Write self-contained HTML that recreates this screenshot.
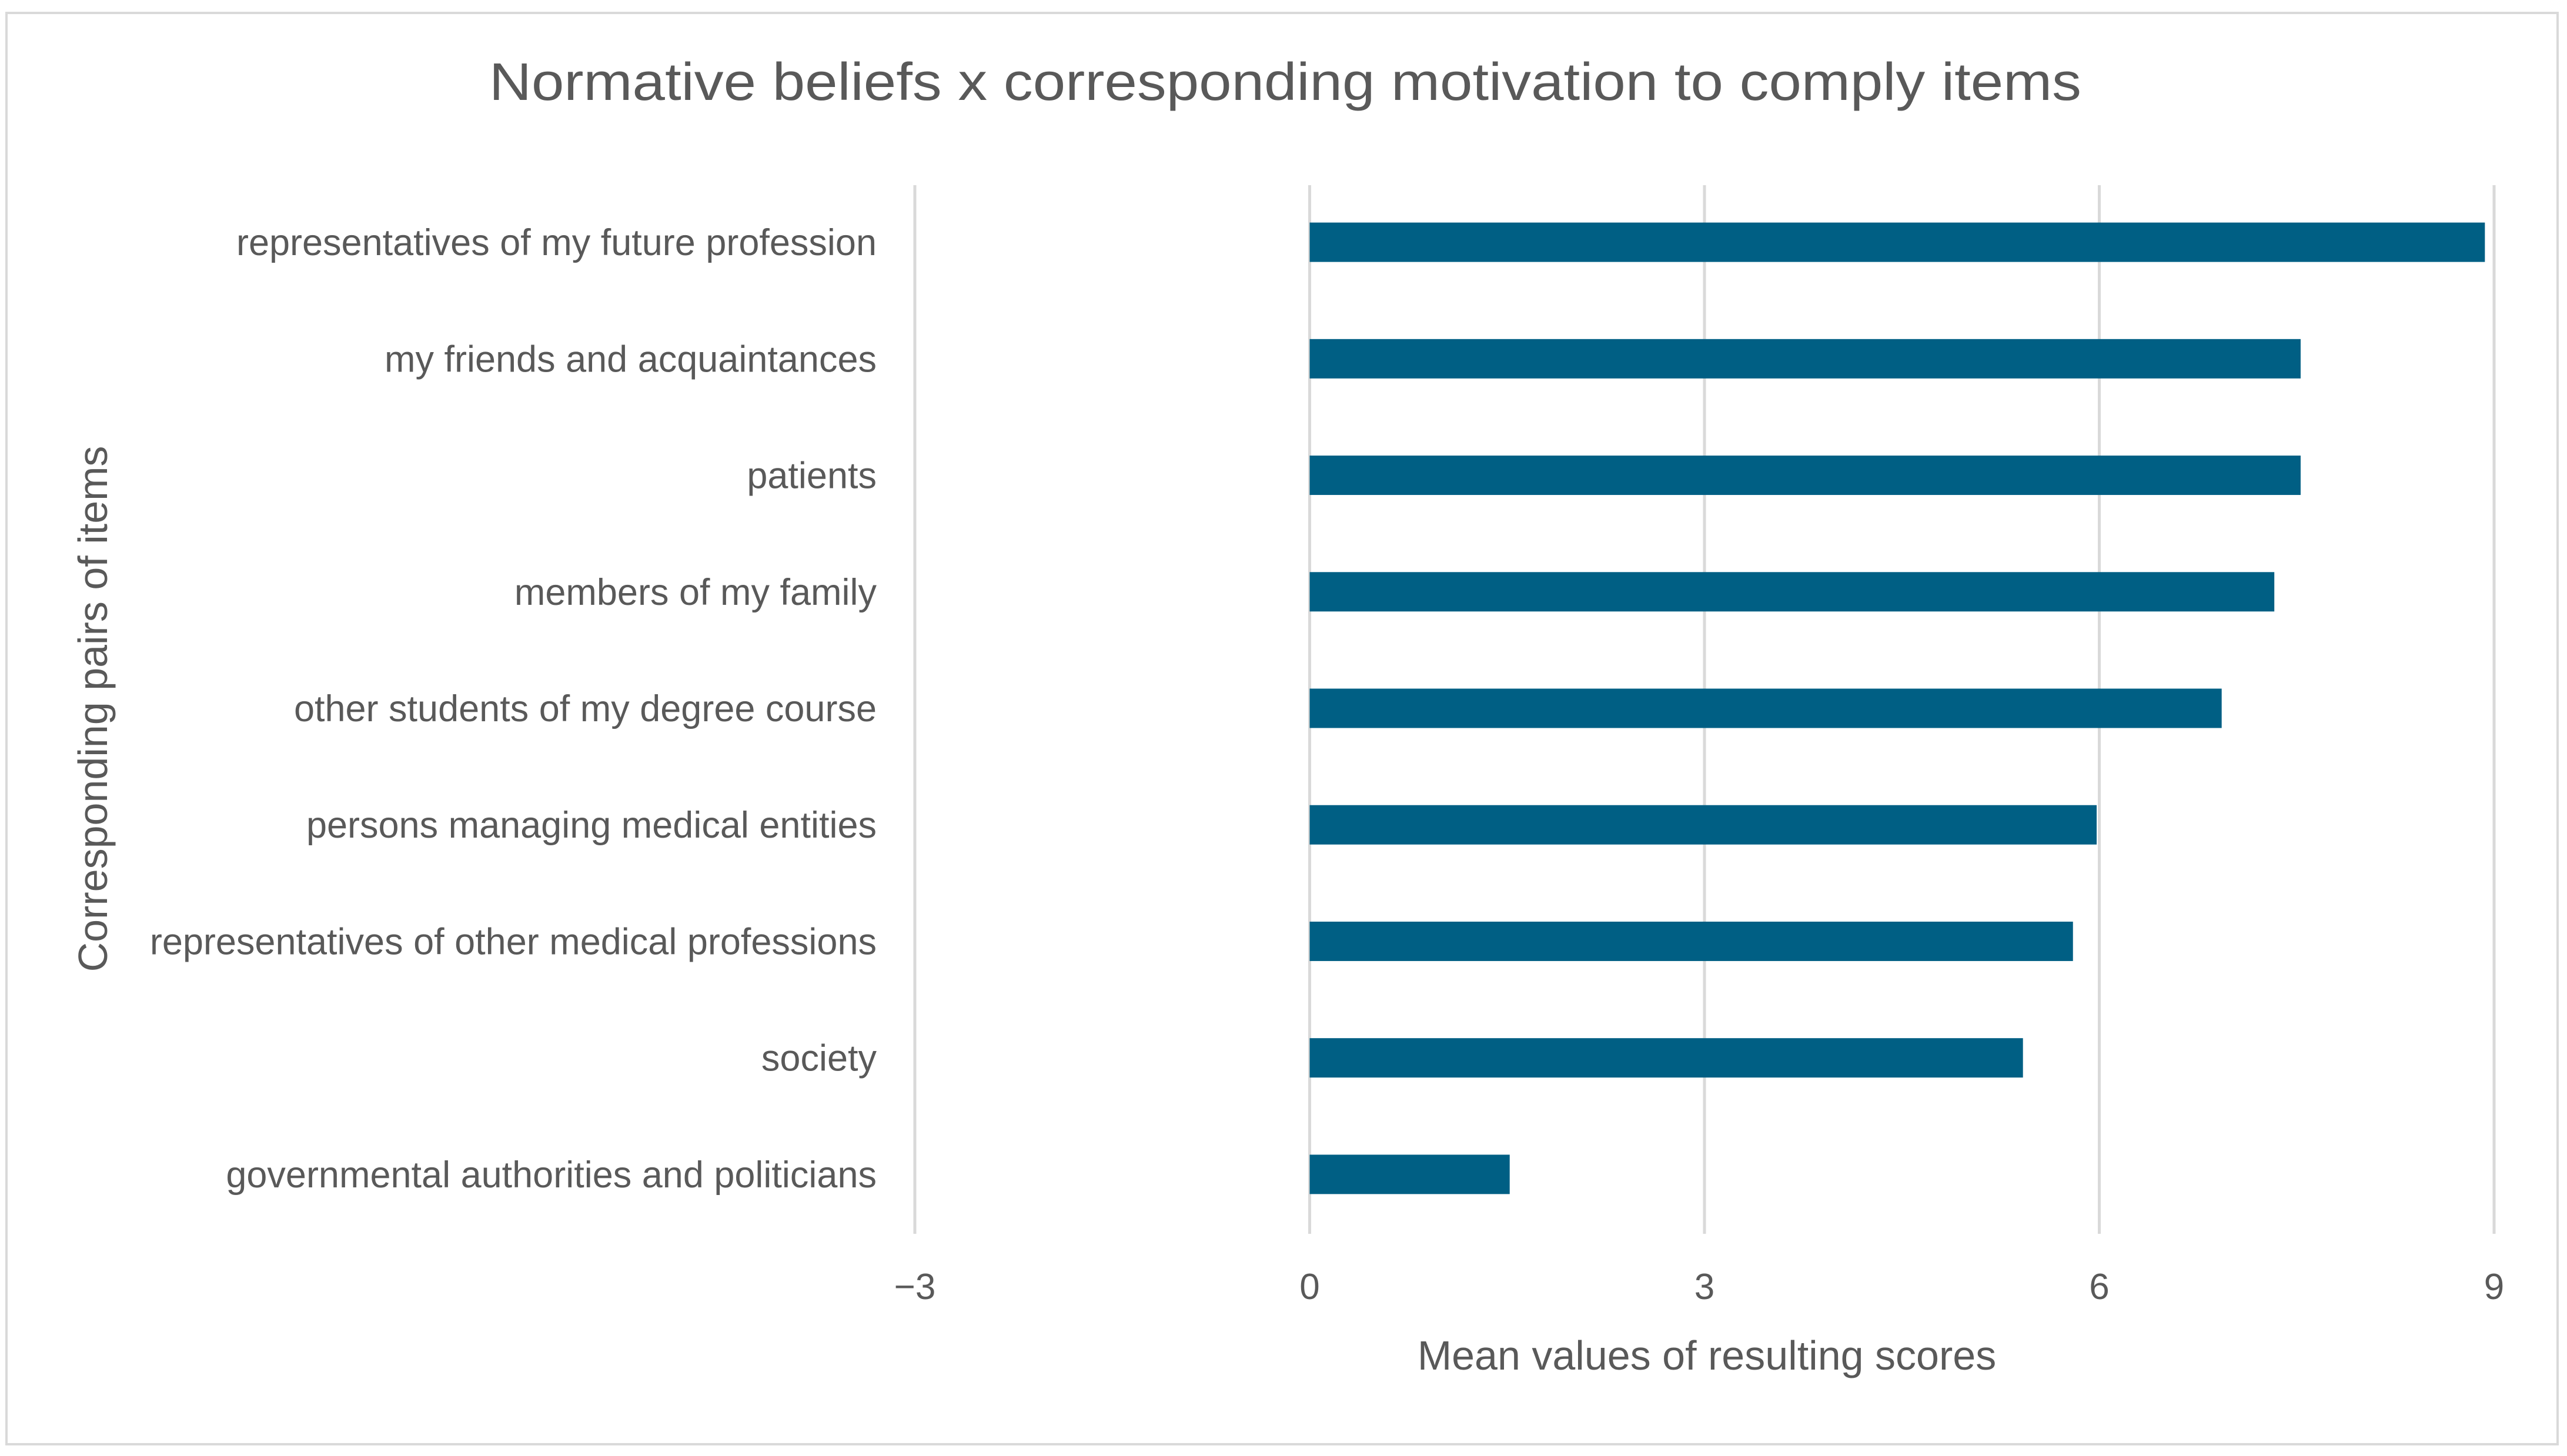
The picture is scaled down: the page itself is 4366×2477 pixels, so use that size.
<!DOCTYPE html>
<html><head><meta charset="utf-8"><style>
html,body{margin:0;padding:0;background:#fff}
svg{display:block}
text{font-family:"Liberation Sans",sans-serif;fill:#595959}
</style></head><body>
<svg id="chart" width="4366" height="2477" viewBox="0 0 4366 2477" xmlns="http://www.w3.org/2000/svg">
<rect x="11" y="22" width="4339" height="2435" fill="#fff" stroke="#d9d9d9" stroke-width="4"/>
<text x="2186" y="170" font-size="90" text-anchor="middle" textLength="2708" lengthAdjust="spacingAndGlyphs">Normative beliefs x corresponding motivation to comply items</text>
<g id="grid"></g>
<g id="bars"></g>
<g id="cats"></g>
<g id="ticks"></g>
<text x="2903" y="2330" font-size="70" text-anchor="middle">Mean values of resulting scores</text>
<text transform="translate(182,1206) rotate(-90)" font-size="70" text-anchor="middle">Corresponding pairs of items</text>
</svg>
<script>
const categories = ["representatives of my future profession","my friends and acquaintances","patients","members of my family","other students of my degree course","persons managing medical entities","representatives of other medical professions","society","governmental authorities and politicians"];
const values = [8.93, 7.53, 7.53, 7.33, 6.93, 5.98, 5.80, 5.42, 1.52];
const tickValues = [-3, 0, 3, 6, 9];
const tickLabels = ["\u22123", "0", "3", "6", "9"];

const NS = "http://www.w3.org/2000/svg";
const xMin = -3, xMax = 9, pxL = 1556, pxR = 4242;
const x = v => pxL + (v - xMin) / (xMax - xMin) * (pxR - pxL);
const plotTop = 315, plotBot = 2099;
const band = (plotBot - plotTop) / categories.length;
const y = i => plotTop + band * (i + 0.5);
const barH = 67;

const grid = document.getElementById('grid');
const ticks = document.getElementById('ticks');
tickValues.forEach((t, i) => {
  const l = document.createElementNS(NS, 'line');
  
  
  l.setAttribute('x1', x(t)); l.setAttribute('x2', x(t));
  l.setAttribute('y1', plotTop); l.setAttribute('y2', plotBot);
  l.setAttribute('stroke', '#d9d9d9'); l.setAttribute('stroke-width', '5');
  grid.appendChild(l);
  const tx = document.createElementNS(NS, 'text');
  
  
  tx.setAttribute('x', x(t)); tx.setAttribute('y', 2210);
  tx.setAttribute('font-size', '62'); tx.setAttribute('text-anchor', 'middle');
  tx.textContent = tickLabels[i];
  ticks.appendChild(tx);
});

const bars = document.getElementById('bars');
const cats = document.getElementById('cats');
categories.forEach((c, i) => {
  const r = document.createElementNS(NS, 'rect');
  
  
  const x0 = x(0), x1 = x(values[i]);
  r.setAttribute('x', Math.min(x0, x1)); r.setAttribute('width', Math.abs(x1 - x0));
  r.setAttribute('y', y(i) - barH / 2 - 2); r.setAttribute('height', barH);
  r.setAttribute('fill', '#005f84');
  bars.appendChild(r);
  const t = document.createElementNS(NS, 'text');
  
  
  t.setAttribute('x', 1491); t.setAttribute('y', y(i) + 20);
  t.setAttribute('font-size', '63'); t.setAttribute('text-anchor', 'end');
  t.textContent = c;
  cats.appendChild(t);
});
</script>
</body></html>
